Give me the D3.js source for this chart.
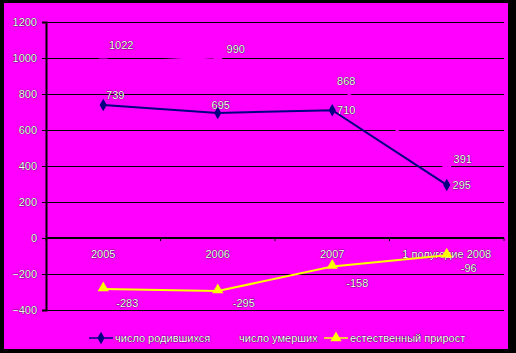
<!DOCTYPE html>
<html><head><meta charset="utf-8">
<script src="https://cdn.jsdelivr.net/npm/d3@7"></script>
<style>
html,body{margin:0;padding:0;background:#000;}
svg{display:block;}
text{font-family:"Liberation Sans",Arial,sans-serif;font-size:11px;}
</style></head>
<body>
<script>
const categories = ["2005", "2006", "2007", "1 полугодие 2008"];
const births = [739, 695, 710, 295];
const deaths = [1022, 990, 868, 391];
const increase = [-283, -295, -158, -96];
const yTicks = [-400, -200, 0, 200, 400, 600, 800, 1000, 1200];
const seriesNames = ["число родившихся", "число умерших", "естественный прирост"];

// label offsets (px) relative to point
const birthOff = [[12, -6], [3, -4], [14, 4], [15, 4]];
const deathOff = [[18, -5], [18, -7], [14, 3], [16, -5]];
const incOff = [[24, 18], [26, 16], [25, 21], [22, 17]];

const W = 516, H = 353;
const MAG = "#FF00FF";
const svg = d3.select("body").append("svg").attr("width", W).attr("height", H);
svg.append("rect").attr("width", W).attr("height", H).attr("fill", "#000");
svg.append("rect").attr("x", 4).attr("y", 3).attr("width", 504).attr("height", 346).attr("fill", MAG);

const x = d3.scalePoint().domain(categories).range([46, 504]).padding(0.5);
const band = d3.scaleBand().domain(categories).range([46, 504]);
const y = d3.scaleLinear().domain([-400, 1200]).range([310, 22]);

function styleText(sel) {
  sel.attr("fill", "#fff").attr("stroke", "#000").attr("stroke-width", 0.6).attr("paint-order", "stroke");
}

// gridlines
svg.append("g").selectAll("line").data(yTicks).join("line")
  .attr("x1", 46).attr("x2", 504).attr("y1", d => Math.round(y(d)) + 0.5).attr("y2", d => Math.round(y(d)) + 0.5)
  .attr("stroke", "#000").attr("stroke-width", 1);

// y axis
const yAxis = svg.append("g").attr("transform", "translate(46,0)")
  .call(d3.axisLeft(y).tickValues(yTicks).tickSize(4).tickPadding(5).tickFormat(d3.format("d")));
yAxis.select(".domain").attr("stroke", "#000").attr("stroke-width", 2);
yAxis.selectAll(".tick line").attr("stroke", "#000");
yAxis.selectAll(".tick text").attr("font-size", 11).attr("font-family", "Liberation Sans, Arial, sans-serif").call(styleText);

// x axis line at 0
const y0 = Math.round(y(0));
svg.append("line").attr("x1", 46).attr("x2", 504).attr("y1", y0).attr("y2", y0).attr("stroke", "#000").attr("stroke-width", 2);
svg.append("g").selectAll("line").data(categories.concat(["__end"])).join("line")
  .attr("x1", (d, i) => i < categories.length ? band(d) : band.range()[1])
  .attr("x2", (d, i) => i < categories.length ? band(d) : band.range()[1])
  .attr("y1", y0).attr("y2", y0 + 3).attr("stroke", "#000").attr("stroke-width", 1);
svg.append("g").selectAll("text").data(categories).join("text")
  .attr("x", d => x(d)).attr("y", y0 + 20).attr("text-anchor", "middle").text(d => d).call(styleText);

const line = d3.line().x((d, i) => x(categories[i])).y(d => y(d));

// deaths (drawn in background colour)
svg.append("path").datum(deaths).attr("d", line).attr("fill", "none").attr("stroke", MAG).attr("stroke-width", 2);
svg.append("g").selectAll("rect").data(deaths).join("rect")
  .attr("x", (d, i) => x(categories[i]) - 4.5).attr("y", d => y(d) - 4.5).attr("width", 9).attr("height", 9).attr("fill", MAG);

// births
svg.append("path").datum(births).attr("d", line).attr("fill", "none").attr("stroke", "#000080").attr("stroke-width", 2);
const diamond = d3.symbol().type(d3.symbolDiamond).size(45);
svg.append("g").selectAll("path").data(births).join("path")
  .attr("transform", (d, i) => `translate(${x(categories[i])},${y(d)})`).attr("d", diamond).attr("fill", "#000080");

// increase
svg.append("path").datum(increase).attr("d", line).attr("fill", "none").attr("stroke", "#FFFF00").attr("stroke-width", 2);
const tri = d3.symbol().type(d3.symbolTriangle).size(55);
svg.append("g").selectAll("path").data(increase).join("path")
  .attr("transform", (d, i) => `translate(${x(categories[i])},${y(d) - 1})`).attr("d", tri).attr("fill", "#FFFF00");

// data labels
function labels(vals, off) {
  svg.append("g").selectAll("text").data(vals).join("text")
    .attr("x", (d, i) => x(categories[i]) + off[i][0])
    .attr("y", (d, i) => y(d) + off[i][1])
    .attr("text-anchor", "middle").text(d => d).call(styleText);
}
labels(births, birthOff);
labels(deaths, deathOff);
labels(increase, incOff);

// legend
const legY = 338;
const legItems = [
  {name: seriesNames[0], x: 89, color: "#000080", sym: diamond},
  {name: seriesNames[1], x: 213, color: MAG, sym: null},
  {name: seriesNames[2], x: 324, color: "#FFFF00", sym: tri}
];
const lg = svg.append("g");
legItems.forEach(it => {
  lg.append("line").attr("x1", it.x).attr("x2", it.x + 24).attr("y1", legY).attr("y2", legY).attr("stroke", it.color).attr("stroke-width", 1.5);
  if (it.sym) lg.append("path").attr("transform", `translate(${it.x + 12},${legY})`).attr("d", it.sym).attr("fill", it.color);
  lg.append("text").attr("x", it.x + 26).attr("y", legY + 4).text(it.name).call(styleText);
});
</script>
</body></html>
